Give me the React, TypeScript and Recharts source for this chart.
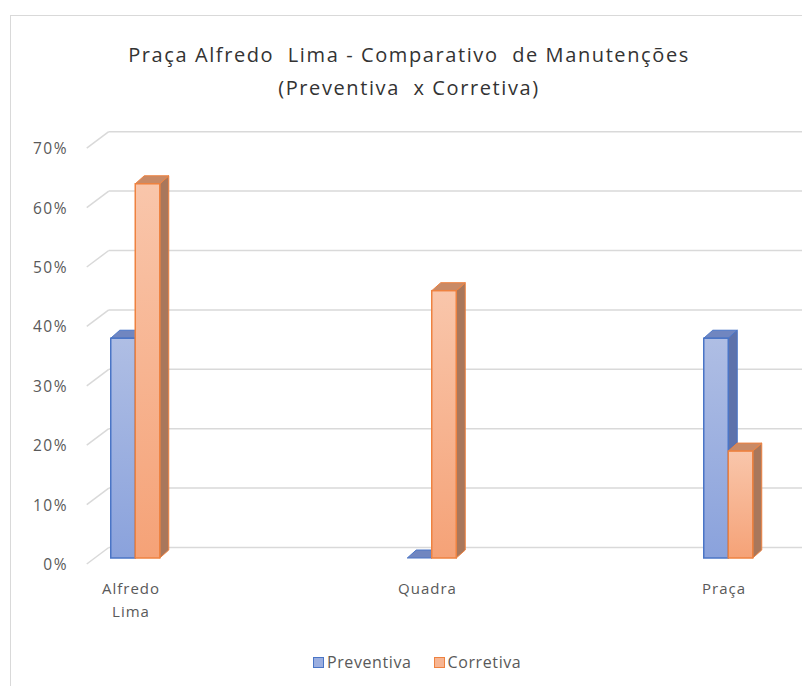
import React from "react";
import { BarChart, Bar, XAxis, YAxis, CartesianGrid } from "recharts";

const categories = ["Alfredo Lima", "Quadra", "Praça"];
const preventiva = [0.37, 0, 0.37];
const corretiva = [0.63, 0.45, 0.18];
const yTicks = [0, 0.1, 0.2, 0.3, 0.4, 0.5, 0.6, 0.7];
const seriesNames = ["Preventiva", "Corretiva"];
const titleLines = ["Praça Alfredo  Lima - Comparativo  de Manutenções", "(Preventiva  x Corretiva)"];

const data = categories.map((name, i) => ({
  name,
  preventiva: preventiva[i],
  corretiva: corretiva[i],
}));

const FONT = "'Open Sans', Lato, sans-serif";
const TEXT = "#595959";
const DX = 9;
const DY = 8;
const GRID_DX = 22;
const GRID_BACK = 10.5;
const GRID_FRONT = 6;

const colors = {
  preventiva: { top: "#afbee4", bottom: "#8aa2dc", stroke: "#4a75c6", side: "#5d72ab", cap: "#7086c0" },
  corretiva: { top: "#f9c6ab", bottom: "#f5a277", stroke: "#ee8240", side: "#a9775b", cap: "#c98a66" },
};

const make3D = (c: any, gid: string) => (p: any) => {
  const { x, y, width: w, height: h } = p;
  const top = `${x},${y} ${x + DX},${y - DY} ${x + w + DX},${y - DY} ${x + w},${y}`;
  const side = `${x + w},${y} ${x + w + DX},${y - DY} ${x + w + DX},${y + h - DY} ${x + w},${y + h}`;
  return (
    <g>
      <polygon points={side} fill={c.side} stroke={c.stroke} strokeWidth={1} strokeLinejoin="round" />
      <polygon points={top} fill={c.cap} stroke={c.stroke} strokeWidth={1} strokeLinejoin="round" />
      {h > 0 && (
        <rect x={x} y={y} width={w} height={h} fill={`url(#${gid})`} stroke={c.stroke} strokeWidth={1.5} />
      )}
    </g>
  );
};

// grid lines sit on the back wall; a short slanted stroke joins them to the front edge
const gridLine = (p: any) => {
  const { x1, x2, y1 } = p;
  return (
    <g key={p.key}>
      <line x1={x1} y1={y1 + GRID_FRONT} x2={x1 + GRID_DX} y2={y1 - GRID_BACK} stroke="#d9d9d9" strokeWidth={1.5} />
      <line x1={x1 + GRID_DX} y1={y1 - GRID_BACK} x2={x2} y2={y1 - GRID_BACK} stroke="#d9d9d9" strokeWidth={1.5} />
    </g>
  );
};

const YTick = (p: any) => (
  <text x={p.x} y={p.y + GRID_FRONT} textAnchor="end" dominantBaseline="central" fill={TEXT} fontSize={15.5} letterSpacing={1.5} fontFamily={FONT}>
    {Math.round(p.payload.value * 100)}%
  </text>
);

const XTick = (p: any) => {
  const words = String(p.payload.value).split(" ");
  return (
    <text x={p.x - 4} y={p.y} textAnchor="middle" fill={TEXT} fontSize={15} letterSpacing={1} fontFamily={FONT}>
      {words.map((w, i) => (
        <tspan key={i} x={p.x - 4} y={p.y + 30 + i * 23} dominantBaseline="central">
          {w}
        </tspan>
      ))}
    </text>
  );
};

export default function App() {
  return (
    <div style={{ position: "relative", width: 802, height: 678, overflow: "hidden", background: "#fff" }}>
      <div
        style={{
          position: "absolute", left: 2, top: 7, width: 900, height: 800,
          border: "1px solid #d9d9d9", boxSizing: "border-box",
        }}
      />
      <div
        style={{
          position: "absolute", left: 0, top: 30, width: 802, textAlign: "center",
          fontFamily: FONT, fontSize: 20, letterSpacing: 1.6, color: "#333333", lineHeight: "33px", whiteSpace: "pre",
        }}
      >
        {titleLines.map((t) => (
          <div key={t}>{t}</div>
        ))}
      </div>
      <div style={{ position: "absolute", left: 0, top: 0 }}>
        <BarChart
          width={980}
          height={678}
          data={data}
          margin={{ top: 134.2, right: 111.75, bottom: 68, left: 8.75 }}
          barGap={0}
          barSize={24.5}
        >
          <defs>
            <linearGradient id="gPrev" x1="0" y1="0" x2="0" y2="1">
              <stop offset="0%" stopColor={colors.preventiva.top} />
              <stop offset="100%" stopColor={colors.preventiva.bottom} />
            </linearGradient>
            <linearGradient id="gCorr" x1="0" y1="0" x2="0" y2="1">
              <stop offset="0%" stopColor={colors.corretiva.top} />
              <stop offset="100%" stopColor={colors.corretiva.bottom} />
            </linearGradient>
          </defs>
          <CartesianGrid vertical={false} horizontal={gridLine} />
          <XAxis
            dataKey="name"
            axisLine={false}
            tickLine={false}
            tickSize={0}
            tickMargin={0}
            height={60}
            padding={{ left: -100, right: 0 }}
            tick={<XTick />}
            interval={0}
          />
          <YAxis
            domain={[0, 0.7]}
            ticks={yTicks}
            width={70}
            axisLine={false}
            tickLine={false}
            tickSize={0}
            tickMargin={18.75}
            tick={<YTick />}
          />
          <Bar dataKey="preventiva" name={seriesNames[0]} isAnimationActive={false} shape={make3D(colors.preventiva, "gPrev")} />
          <Bar dataKey="corretiva" name={seriesNames[1]} isAnimationActive={false} shape={make3D(colors.corretiva, "gCorr")} />
        </BarChart>
      </div>
      <div
        style={{
          position: "absolute", left: 305, top: 643, display: "flex", alignItems: "center",
          fontFamily: FONT, fontSize: 16, letterSpacing: 0.6, color: TEXT,
        }}
      >
        {seriesNames.map((s, i) => {
          const c = i === 0 ? colors.preventiva : colors.corretiva;
          return (
            <div key={s} style={{ display: "flex", alignItems: "center", marginRight: i === 0 ? 22 : 0 }}>
              <span
                style={{
                  width: 9, height: 9, background: i === 0 ? "#9aaee0" : "#f7b592",
                  border: `1.5px solid ${c.stroke}`, marginRight: 3, display: "inline-block",
                }}
              />
              {s}
            </div>
          );
        })}
      </div>
    </div>
  );
}
